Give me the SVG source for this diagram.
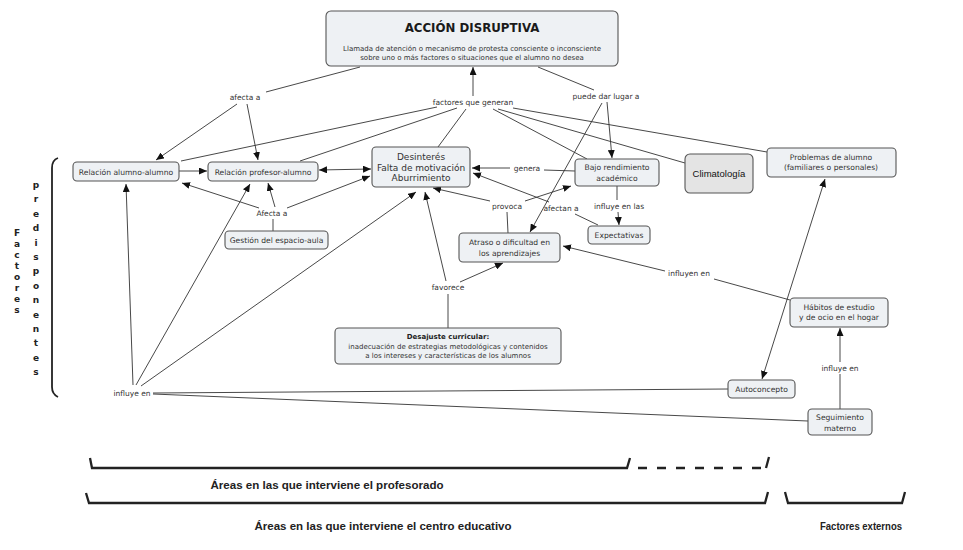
<svg xmlns="http://www.w3.org/2000/svg" width="963" height="550" viewBox="0 0 963 550">
<defs>
<marker id="ah" markerUnits="userSpaceOnUse" markerWidth="8" markerHeight="7" refX="8" refY="3.5" orient="auto-start-reverse">
<path d="M0,0 L8,3.5 L0,7 z" fill="#111"/>
</marker>
<style>
.n rect{fill:#eef1f4;stroke:#555;stroke-width:1.1}
.t{font-family:"DejaVu Sans",Verdana,sans-serif;font-size:7.6px;fill:#333;text-anchor:middle}
.lb{font-family:"DejaVu Sans",Verdana,sans-serif;font-size:7.5px;fill:#333;text-anchor:middle}
.c line,.c polyline{stroke:#333;stroke-width:0.9;fill:none}
.a{marker-end:url(#ah)}
.v{font-family:"DejaVu Sans",Verdana,sans-serif;font-size:9px;font-weight:bold;fill:#222;text-anchor:middle}
.bt{font-family:"Liberation Sans",Arial,sans-serif;font-size:10px;font-weight:bold;fill:#222;text-anchor:middle}
.br{stroke:#222;stroke-width:2.3;fill:none}
</style>
</defs>
<rect width="963" height="550" fill="#fff"/>

<g id="connectors" class="c">
<line x1="360" y1="67" x2="266" y2="92"/>
<line class="a" x1="237" y1="104" x2="156" y2="160"/>
<line class="a" x1="247" y1="104" x2="258" y2="160"/>
<line class="a" x1="473" y1="96" x2="473" y2="67"/>
<line x1="437" y1="107" x2="181" y2="161"/>
<line x1="457" y1="108" x2="300" y2="161"/>
<line x1="466" y1="109" x2="438" y2="147"/>
<line x1="493" y1="109" x2="587" y2="159"/>
<line x1="498" y1="109" x2="685" y2="163"/>
<line x1="513" y1="108" x2="767" y2="152"/>
<line x1="538" y1="67" x2="594" y2="90"/>
<line class="a" x1="607" y1="102" x2="612" y2="158"/>
<line class="a" x1="602" y1="103" x2="530" y2="232"/>
<line class="a" x1="179" y1="171" x2="207" y2="171"/>
<line class="a" x1="371" y1="169" x2="319" y2="170" style="marker-start:url(#ah)"/>
<line class="a" x1="259" y1="208" x2="182" y2="183"/>
<line class="a" x1="275" y1="207" x2="268" y2="183"/>
<line class="a" x1="287" y1="208" x2="370" y2="176"/>
<line x1="273" y1="231" x2="273" y2="219"/>
<line class="a" x1="133" y1="385" x2="126" y2="184"/>
<line class="a" x1="136" y1="385" x2="250" y2="184"/>
<line class="a" x1="141" y1="386" x2="416" y2="192"/>
<line x1="153" y1="393" x2="728" y2="389"/>
<line x1="153" y1="394" x2="808" y2="421"/>
<line x1="575" y1="171" x2="544" y2="170"/>
<line class="a" x1="510" y1="168" x2="472" y2="168"/>
<line x1="598" y1="225" x2="575" y2="214"/>
<line class="a" x1="549" y1="202" x2="473" y2="173"/>
<line x1="508" y1="233" x2="507" y2="212"/>
<line class="a" x1="490" y1="201" x2="433" y2="188"/>
<line class="a" x1="525" y1="201" x2="571" y2="186"/>
<line x1="617" y1="186" x2="617" y2="200"/>
<line class="a" x1="618" y1="212" x2="619" y2="225"/>
<line x1="448" y1="328" x2="448" y2="294"/>
<line class="a" x1="446" y1="281" x2="425" y2="192"/>
<line class="a" x1="460" y1="282" x2="503" y2="263"/>
<line x1="790" y1="300" x2="714" y2="279"/>
<line class="a" x1="665" y1="271" x2="563" y2="246"/>
<line class="a" x1="825" y1="179" x2="762" y2="379" style="marker-start:url(#ah)"/>
<line x1="840" y1="409" x2="840" y2="374"/>
<line class="a" x1="840" y1="362" x2="840" y2="328"/>
</g>

<g id="lbl-afecta" ><text class="lb" x="245" y="100">afecta a</text></g>
<g id="lbl-factores"><text class="lb" x="473" y="105">factores que generan</text></g>
<g id="lbl-puede"><text class="lb" x="606" y="99">puede dar lugar a</text></g>
<g id="lbl-genera"><text class="lb" x="527" y="171">genera</text></g>
<g id="lbl-provoca"><text class="lb" x="507" y="209">provoca</text></g>
<g id="lbl-afectan"><text class="lb" x="561" y="211">afectan a</text></g>
<g id="lbl-influyelas"><text class="lb" x="619" y="209">influye en las</text></g>
<g id="lbl-Afecta"><text class="lb" x="272" y="216">Afecta a</text></g>
<g id="lbl-favorece"><text class="lb" x="448" y="290">favorece</text></g>
<g id="lbl-influyen"><text class="lb" x="689" y="276">influyen en</text></g>
<g id="lbl-influye1"><text class="lb" x="132" y="396">influye en</text></g>
<g id="lbl-influye2"><text class="lb" x="840" y="371">influye en</text></g>

<g id="accion" class="n">
<rect x="326" y="11" width="292" height="55" rx="5"/>
<text x="472" y="31.5" style="font-family:'DejaVu Sans',Verdana,sans-serif;font-size:11.8px;font-weight:bold;fill:#1a1a1a;text-anchor:middle">ACCIÓN DISRUPTIVA</text>
<text class="t" x="472" y="50.5" style="font-size:7px">Llamada de atención o mecanismo de protesta consciente o inconsciente</text>
<text class="t" x="472" y="60" style="font-size:7px">sobre uno o más factores o situaciones que el alumno no desea</text>
</g>
<g id="alumno" class="n">
<rect x="73" y="162" width="106" height="19" rx="4"/>
<text class="t" x="126" y="174.5">Relación alumno-alumno</text>
</g>
<g id="profesor" class="n">
<rect x="208" y="162" width="110" height="19" rx="4"/>
<text class="t" x="263" y="174.5">Relación profesor-alumno</text>
</g>
<g id="desinteres" class="n">
<rect x="372" y="147" width="98" height="40" rx="4"/>
<text class="t" x="421" y="159.5" style="font-size:9px">Desinterés</text>
<text class="t" x="421" y="170.5" style="font-size:9px">Falta de motivación</text>
<text class="t" x="421" y="181" style="font-size:9px">Aburrimiento</text>
</g>
<g id="bajo" class="n">
<rect x="575" y="159" width="84" height="27" rx="4"/>
<text class="t" x="617" y="170">Bajo rendimiento</text>
<text class="t" x="617" y="181">académico</text>
</g>
<g id="climatologia" class="n">
<rect x="685" y="154" width="68" height="39" rx="5" style="fill:#e4e4e4"/>
<text x="719" y="177" style="font-family:'Liberation Sans',Arial,sans-serif;font-size:9.5px;fill:#111;text-anchor:middle">Climatología</text>
</g>
<g id="problemas" class="n">
<rect x="767" y="148" width="129" height="29" rx="4"/>
<text class="t" x="831" y="160">Problemas de alumno</text>
<text class="t" x="831" y="170">(familiares o personales)</text>
</g>
<g id="gestion" class="n">
<rect x="225" y="231" width="103" height="18" rx="4"/>
<text class="t" x="276.5" y="243">Gestión del espacio-aula</text>
</g>
<g id="expectativas" class="n">
<rect x="588" y="226" width="62" height="18" rx="4"/>
<text class="t" x="619" y="238">Expectativas</text>
</g>
<g id="atraso" class="n">
<rect x="459" y="233" width="101" height="29" rx="4"/>
<text class="t" x="509.5" y="245">Atraso o dificultad en</text>
<text class="t" x="509.5" y="255.5">los aprendizajes</text>
</g>
<g id="desajuste" class="n">
<rect x="335" y="328" width="226" height="36" rx="4"/>
<text class="t" x="448" y="338.5" style="font-weight:bold;font-size:7px;fill:#222">Desajuste curricular:</text>
<text class="t" x="448" y="348.5" style="font-size:7px">inadecuación de estrategias metodológicas y contenidos</text>
<text class="t" x="448" y="358" style="font-size:7px">a los intereses y características de los alumnos</text>
</g>
<g id="habitos" class="n">
<rect x="790" y="298" width="98" height="29" rx="4"/>
<text class="t" x="839" y="310">Hábitos de estudio</text>
<text class="t" x="839" y="320">y de ocio en el hogar</text>
</g>
<g id="autoconcepto" class="n">
<rect x="728" y="380" width="67" height="18" rx="4"/>
<text class="t" x="761.5" y="392">Autoconcepto</text>
</g>
<g id="seguimiento" class="n">
<rect x="808" y="409" width="64" height="26" rx="4"/>
<text class="t" x="840" y="420">Seguimiento</text>
<text class="t" x="840" y="430.5">materno</text>
</g>

<g id="brace-left">
<path class="br" d="M58,158 Q52,160 52,168 L52,387 Q52,394 58,397" style="stroke-width:1.8"/>
</g>
<g id="factores-text">
<text class="v" x="17" y="236">F</text>
<text class="v" x="17" y="247">a</text>
<text class="v" x="17" y="258">c</text>
<text class="v" x="17" y="269">t</text>
<text class="v" x="17" y="280">o</text>
<text class="v" x="17" y="291">r</text>
<text class="v" x="17" y="302">e</text>
<text class="v" x="17" y="313">s</text>
</g>
<g id="predisponentes-text">
<text class="v" x="36" y="188">p</text>
<text class="v" x="36" y="202.4">r</text>
<text class="v" x="36" y="216.8">e</text>
<text class="v" x="36" y="231.2">d</text>
<text class="v" x="36" y="245.6">i</text>
<text class="v" x="36" y="260">s</text>
<text class="v" x="36" y="274.4">p</text>
<text class="v" x="36" y="288.8">o</text>
<text class="v" x="36" y="303.2">n</text>
<text class="v" x="36" y="317.6">e</text>
<text class="v" x="36" y="332">n</text>
<text class="v" x="36" y="346.4">t</text>
<text class="v" x="36" y="360.8">e</text>
<text class="v" x="36" y="375.2">s</text>
</g>

<g id="bracket-profesorado">
<path class="br" d="M90,458 L92,468 L627,468 L630,458"/>
<path class="br" d="M636,468 L766,468" stroke-dasharray="9,10" style="stroke-dashoffset:-2"/>
<path class="br" d="M766,468 L769,457"/>
<text class="bt" x="327" y="489" textLength="233" lengthAdjust="spacingAndGlyphs">Áreas en las que interviene el profesorado</text>
</g>
<g id="bracket-centro">
<path class="br" d="M86,493 L89,503 L765,503 L768,492"/>
<text class="bt" x="383" y="530" textLength="257" lengthAdjust="spacingAndGlyphs">Áreas en las que interviene el centro educativo</text>
</g>
<g id="bracket-externos">
<path class="br" d="M785,492 L788,503 L902,503 L905,492"/>
<text class="bt" x="861" y="530" textLength="82" lengthAdjust="spacingAndGlyphs">Factores externos</text>
</g>
</svg>
